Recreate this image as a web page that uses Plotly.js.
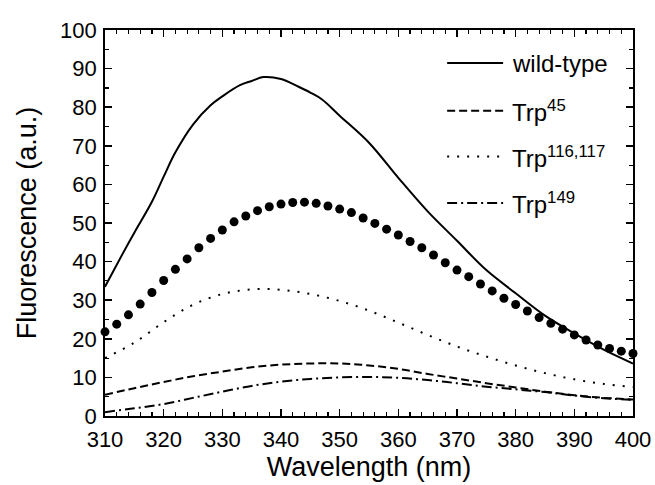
<!DOCTYPE html>
<html>
<head>
<meta charset="utf-8">
<script src="https://cdn.plot.ly/plotly-3.0.1.min.js"></script>
<style>html,body{margin:0;padding:0;background:#fff;}#chart{width:655px;height:485px;}</style>
</head>
<body>
<div id="chart"></div>
<script>
// Wavelength grids (nm)
const wlWild = [310,313,315,318,320,322,325,328,330,333,335,337,340,343,345,347,350,355,360,365,370,375,380,385,390,395,400];
const wildType = [33.5,42,47.5,55.5,62,68.3,75.5,80.5,82.8,85.7,86.8,87.8,87.3,85.3,83.8,82.0,77.8,70.8,61.7,53,45.4,37.8,31.8,26.0,21.4,17.2,13.6];

const wl5 = [310,315,320,325,330,335,340,345,350,355,360,365,370,375,380,385,390,395,400];
const trp45 = [5.5,7.2,8.8,10.3,11.5,12.6,13.3,13.6,13.6,13.1,12.2,10.9,9.7,8.5,7.4,6.3,5.4,4.7,4.3];
const trp116 = [15,19,24.3,28.8,31.6,32.8,32.7,31.6,29.8,27.3,24.2,21,18,15.4,13.1,11.1,9.5,8.3,7.5];
const trp149 = [1.0,2.0,3.1,4.7,6.3,7.8,8.9,9.6,10.0,10.1,9.9,9.3,8.5,7.6,6.9,6.2,5.3,4.6,4.2];

// Unlabelled series drawn with large filled circles
const wlDots = [310,312,314,316,318,320,322,324,326,328,330,332,334,336,338,340,342,344,346,348,350,352,354,356,358,360,362,364,366,368,370,372,374,376,378,380,382,384,386,388,390,392,394,396,398,400];
const dotSeries = [21.8,23.8,26.2,29.0,32.0,35.1,38.0,40.7,43.6,46.0,48.2,50.3,51.8,53.2,54.2,54.9,55.3,55.4,55.1,54.4,53.6,52.7,51.3,49.9,48.4,46.9,45.2,43.6,41.7,39.7,37.8,36.1,34.2,32.4,30.5,28.9,27.2,25.5,24.0,22.5,21.0,19.7,18.4,17.5,16.8,16.2];

// Tick and legend labels
const legendNames = ["wild-type", "Trp<sup>45</sup>", "Trp<sup>116,117</sup>", "Trp<sup>149</sup>"];
const xTitle = "Wavelength (nm)";
const yTitle = "Fluorescence (a.u.)";

const FONT = "Liberation Sans, Arial, Helvetica, sans-serif";
const dashes = ["solid", "8px,4px", "2px,8px", "10px,4px,2px,4px"];

const traces = [
  {x: wlWild, y: wildType, mode: "lines", line: {color: "#000", width: 2, shape: "spline", dash: dashes[0]}, name: legendNames[0]},
  {x: wl5, y: trp45, mode: "lines", line: {color: "#000", width: 2, shape: "spline", dash: dashes[1]}, name: legendNames[1]},
  {x: wl5, y: trp116, mode: "lines", line: {color: "#000", width: 2, shape: "spline", dash: dashes[2]}, name: legendNames[2]},
  {x: wl5, y: trp149, mode: "lines", line: {color: "#000", width: 2, shape: "spline", dash: dashes[3]}, name: legendNames[3]},
  {x: wlDots, y: dotSeries, mode: "markers", marker: {color: "#000", size: 9, symbol: "circle"}, name: "dots", cliponaxis: false}
];

// manual legend (paper coordinates)
const legY = [0.9145, 0.791, 0.672, 0.552];
const shapes = [];
const annotations = [];
legY.forEach((yy, i) => {
  shapes.push({type: "line", xref: "paper", yref: "paper", x0: 0.648, x1: 0.754, y0: yy, y1: yy,
    line: {color: "#000", width: 2, dash: dashes[i]}});
  annotations.push({xref: "paper", yref: "paper", x: 0.767, y: yy, xanchor: "left", yanchor: "middle",
    text: legendNames[i], showarrow: false, font: {family: FONT, size: 24, color: "#000"}});
});

const axisCommon = {
  showgrid: false, zeroline: false, showline: true, linecolor: "#000", linewidth: 1.8,
  mirror: "allticks", ticks: "inside", ticklen: 7, tickwidth: 1.5, tickcolor: "#000",
  tickfont: {family: FONT, size: 22, color: "#000"}
};

const layout = {
  width: 655, height: 485,
  margin: {l: 105, r: 22, t: 30, b: 69},
  paper_bgcolor: "#fff", plot_bgcolor: "#fff",
  showlegend: false,
  xaxis: Object.assign({}, axisCommon, {
    range: [310, 400], dtick: 10, tick0: 310, ticklabelstandoff: 3,
    minor: {dtick: 2, ticks: "inside", ticklen: 4, tickwidth: 1.2, tickcolor: "#000"},
    title: {text: xTitle, font: {family: FONT, size: 27, color: "#000"}, standoff: 2}
  }),
  yaxis: Object.assign({}, axisCommon, {
    range: [0, 100], dtick: 10, tick0: 0, ticklabelstandoff: 2,
    minor: {dtick: 5, ticks: "inside", ticklen: 4, tickwidth: 1.2, tickcolor: "#000"},
    title: {text: yTitle, font: {family: FONT, size: 27, color: "#000"}, standoff: 16}
  }),
  shapes: shapes,
  annotations: annotations
};

Plotly.newPlot("chart", traces, layout, {displayModeBar: false, staticPlot: true});
</script>
</body>
</html>
